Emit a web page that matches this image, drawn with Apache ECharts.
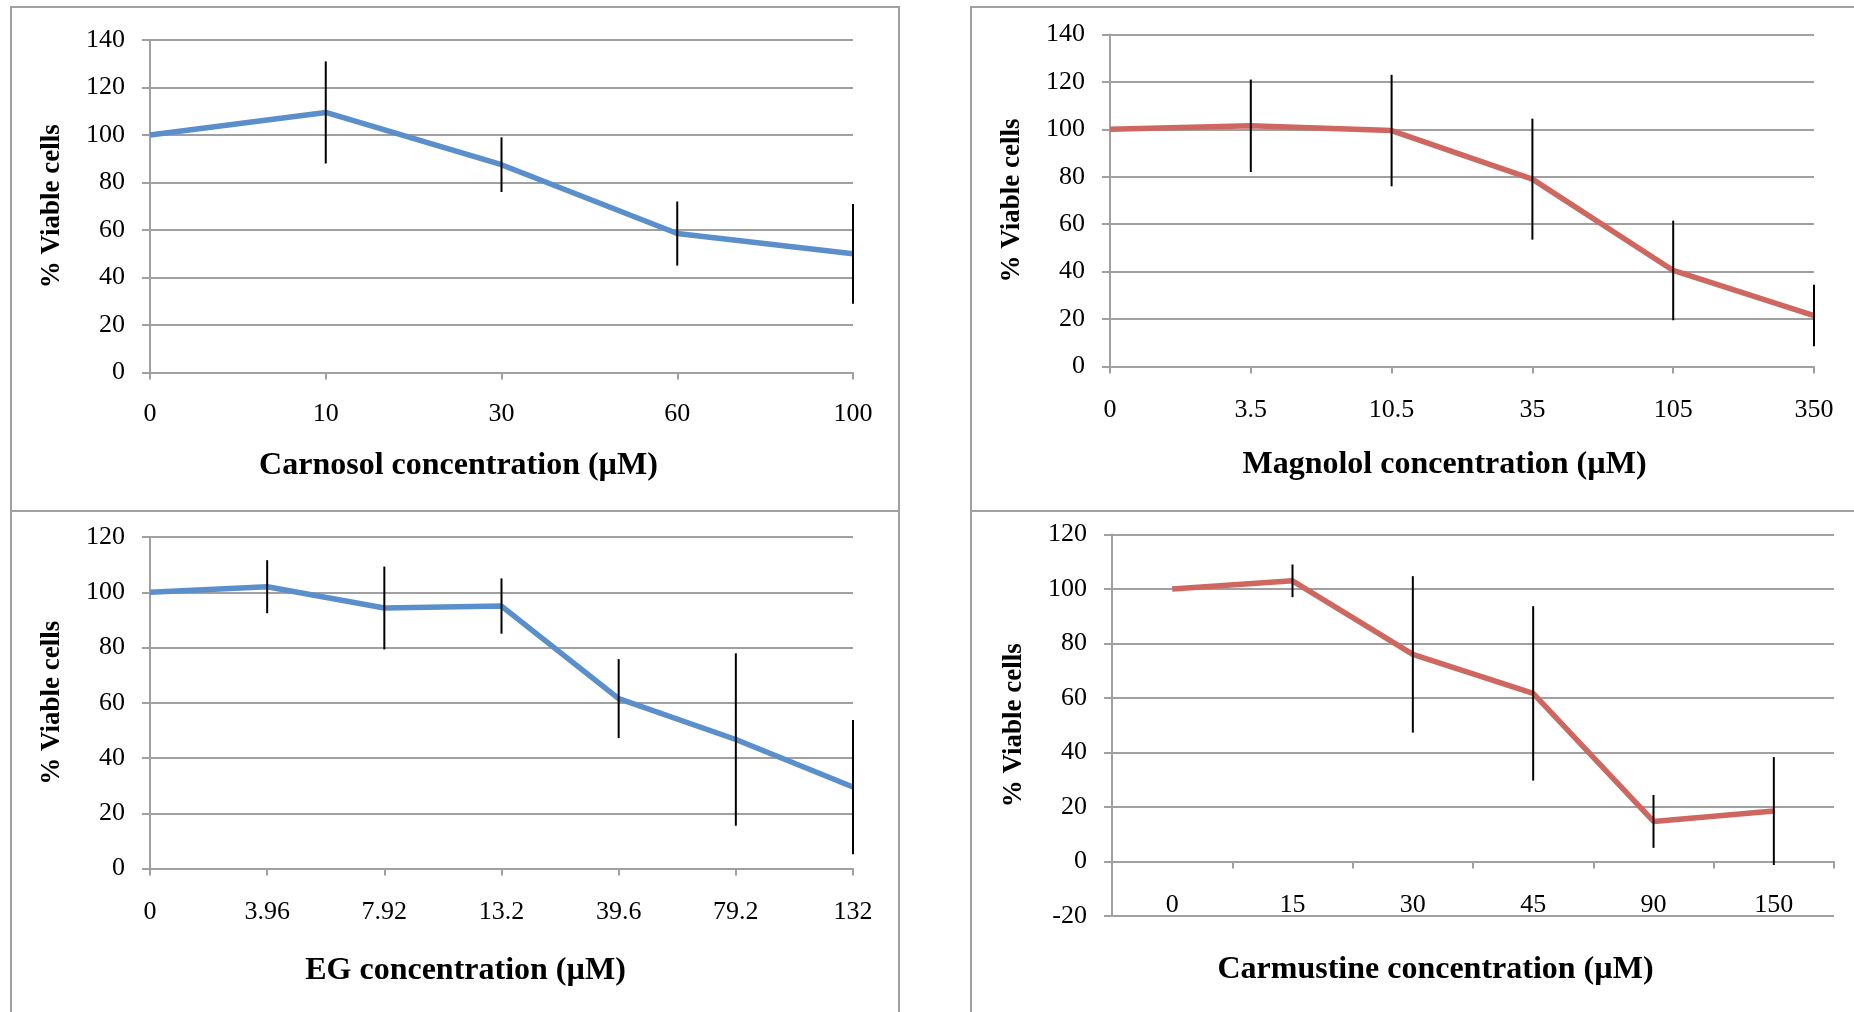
<!DOCTYPE html>
<html>
<head>
<meta charset="utf-8">
<title>Viable cells</title>
<script src="https://cdn.jsdelivr.net/npm/echarts@6/dist/echarts.min.js"></script>
<style>
  html, body { margin: 0; padding: 0; background: #fff; }
  #chart { width: 1854px; height: 1012px; }
</style>
</head>
<body>
<div id="chart"></div>
<script>
// values
const carnosolCats = ['0', '10', '30', '60', '100'];
const carnosolMean = [100, 109.5, 87.5, 58.5, 50];
const carnosolErr = [0, 21.5, 11.5, 13.5, 21];

const magnololCats = ['0', '3.5', '10.5', '35', '105', '350'];
const magnololMean = [100, 101.5, 99.5, 79, 40.5, 21.5];
const magnololErr = [0, 19.5, 23.5, 25.5, 21, 13];

const egCats = ['0', '3.96', '7.92', '13.2', '39.6', '79.2', '132'];
const egMean = [100, 102, 94.3, 95, 61.5, 46.7, 29.5];
const egErr = [0, 9.6, 15, 10, 14.3, 31.2, 24.3];

const carmustineCats = ['0', '15', '30', '45', '90', '150'];
const carmustineMean = [100, 103, 76, 61.7, 14.7, 18.5];
const carmustineErr = [0, 6, 28.7, 32, 9.7, 19.8];

const BLUE = '#5B8FCB';
const RED = '#CF6761';
const GRAY = '#a0a0a0';
const FONT = '"Liberation Serif", "Times New Roman", serif';

const panels = [
  { cats: carnosolCats, mean: carnosolMean, err: carnosolErr, color: BLUE,
    title: 'Carnosol concentration (\u00b5M)', min: 0, max: 140, gap: false,
    grid: { left: 150, top: 40, width: 703, height: 332.5 }, nameGap: 77, shift: 86, labelMargin: 29 },
  { cats: magnololCats, mean: magnololMean, err: magnololErr, color: RED,
    title: 'Magnolol concentration (\u00b5M)', min: 0, max: 140, gap: false,
    grid: { left: 1110, top: 34.5, width: 704, height: 332 }, nameGap: 82, shift: 35, labelMargin: 31 },
  { cats: egCats, mean: egMean, err: egErr, color: BLUE,
    title: 'EG concentration (\u00b5M)', min: 0, max: 120, gap: false,
    grid: { left: 150, top: 537, width: 703, height: 331.5 }, nameGap: 86, shift: 72, labelMargin: 31 },
  { cats: carmustineCats, mean: carmustineMean, err: carmustineErr, color: RED,
    title: 'Carmustine concentration (\u00b5M)', min: -20, max: 120, gap: true,
    grid: { left: 1112, top: 534.5, width: 722, height: 381.5 }, nameGap: 92, shift: 75, labelMargin: 31 }
];

const grids = [], xAxes = [], yAxes = [], series = [];

panels.forEach((p, i) => {
  grids.push(p.grid);
  // keep the x axis on the zero line (lift it from the grid bottom)
  const zeroLift = p.min < 0 ? -p.grid.height * (0 - p.min) / (p.max - p.min) : 0;
  xAxes.push({
    type: 'category', gridIndex: i, data: p.cats, boundaryGap: p.gap,
    offset: zeroLift,
    axisLine: { show: true, onZero: false, lineStyle: { color: GRAY, width: 2 } },
    axisTick: { show: true, length: 7, lineStyle: { color: GRAY, width: 2 } },
    axisLabel: { color: '#000', fontFamily: FONT, fontSize: 26, margin: p.labelMargin },
    splitLine: { show: false },
    name: p.title, nameLocation: 'middle', nameGap: p.nameGap,
    nameTextStyle: { color: '#000', fontFamily: FONT, fontSize: 32, fontWeight: 'bold',
      padding: [0, p.shift, 0, 0] }
  });
  yAxes.push({
    type: 'value', gridIndex: i, min: p.min, max: p.max, interval: 20,
    axisLine: { show: true, lineStyle: { color: GRAY, width: 2 } },
    axisTick: { show: true, length: 8, lineStyle: { color: GRAY, width: 2 } },
    axisLabel: { color: '#000', fontFamily: FONT, fontSize: 26, margin: 25 },
    splitLine: { show: true, lineStyle: { color: GRAY, width: 2 } },
    name: '% Viable cells', nameLocation: 'middle', nameGap: 84,
    nameTextStyle: { color: '#000', fontFamily: FONT, fontSize: 27, fontWeight: 'bold' }
  });
  series.push({
    type: 'line', xAxisIndex: i, yAxisIndex: i, data: p.mean,
    symbol: 'none', smooth: false,
    lineStyle: { color: p.color, width: 5.5 }, z: 2
  });
  series.push({
    type: 'custom', xAxisIndex: i, yAxisIndex: i, z: 3,
    data: p.mean.map((m, k) => [k, m - p.err[k], m + p.err[k]]),
    renderItem(params, api) {
      const lo = api.coord([api.value(0), api.value(1)]);
      const hi = api.coord([api.value(0), api.value(2)]);
      return {
        type: 'line',
        shape: { x1: lo[0], y1: lo[1], x2: hi[0], y2: hi[1] },
        style: { stroke: '#000', lineWidth: 2 }
      };
    }
  });
});

// panel frames
const frames = [
  [11, 7, 888, 504], [971, 7, 900, 504],
  [11, 511, 888, 520], [971, 511, 900, 520]
].map(([x, y, w, h]) => ({
  type: 'rect', shape: { x, y, width: w, height: h },
  style: { fill: 'none', stroke: GRAY, lineWidth: 2 }, silent: true, z: -1
}));

const chart = echarts.init(document.getElementById('chart'));
chart.setOption({
  animation: false,
  backgroundColor: '#fff',
  graphic: frames,
  grid: grids,
  xAxis: xAxes,
  yAxis: yAxes,
  series: series
});
</script>
</body>
</html>
